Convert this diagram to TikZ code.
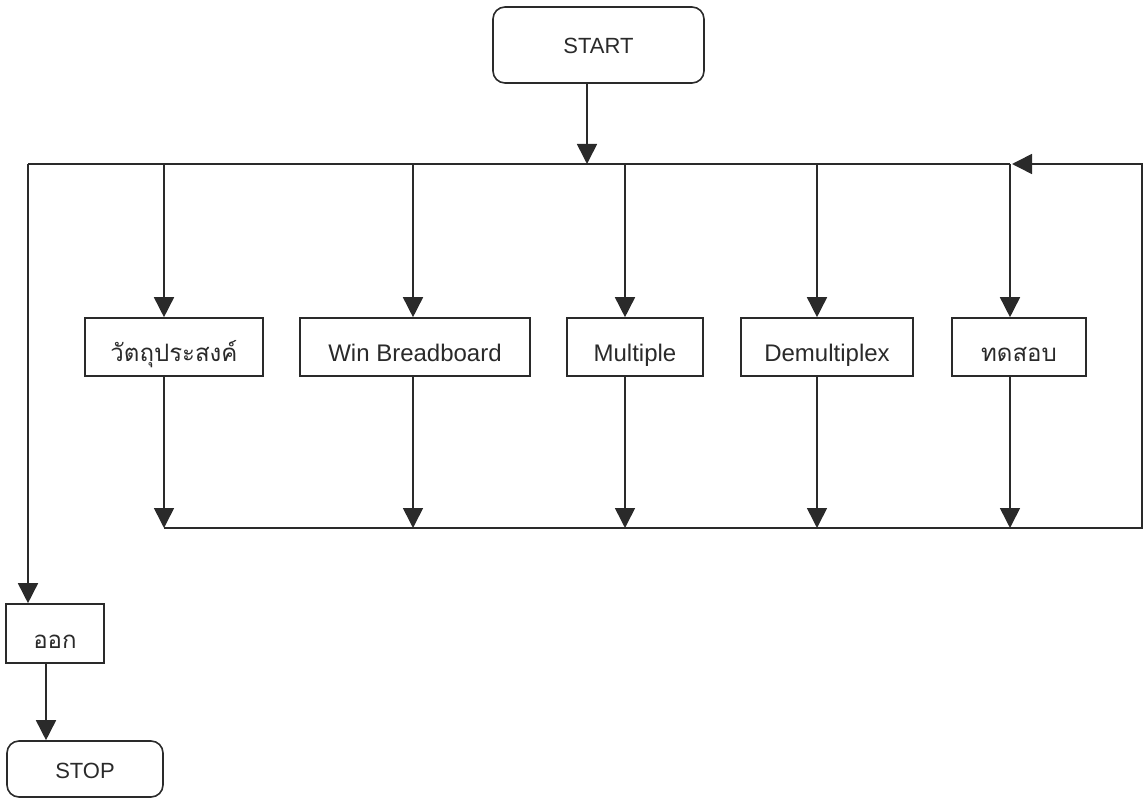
\documentclass[tikz,border=0pt]{standalone}
\usepackage{fontspec}
\setmainfont{Liberation Sans}
\newfontfamily\thaifont[Script=Thai]{Loma}
\usetikzlibrary{arrows.meta}
\definecolor{ink}{HTML}{2A2A2A}
\begin{document}
\begin{tikzpicture}[x=1pt,y=-1pt,
  flow/.style={draw=ink, line width=1.6pt},
  arr/.style={flow, -{Triangle[width=20pt,length=20pt]}},
  term/.style={draw=ink, line width=1.6pt, rounded corners=12pt, inner sep=0pt,
    text height=18pt, text depth=0pt,
    font=\fontsize{22}{26}\selectfont, text=ink},
  proc/.style={draw=ink, line width=1.6pt, minimum height=58pt, inner sep=0pt,
    text height=30pt, text depth=0pt,
    font=\fontsize{24}{28}\selectfont, text=ink}]
  \useasboundingbox (0,0) rectangle (1143,799);

  % terminals
  \node[term, minimum width=211pt, minimum height=76pt] (start) at (598.5,45) {START};
  \node[term, minimum width=156pt, minimum height=56pt] (stop) at (85,769) {STOP};

  % menu items
  \node[proc, minimum width=178pt] (obj)  at (174,347)  {\thaifont วัตถุประสงค์};
  \node[proc, minimum width=230pt] (wb)   at (415,347)  {Win Breadboard};
  \node[proc, minimum width=136pt] (mul)  at (635,347)  {Multiple};
  \node[proc, minimum width=172pt] (dem)  at (827,347)  {Demultiplex};
  \node[proc, minimum width=134pt] (test) at (1019,347) {\thaifont ทดสอบ};
  \node[proc, minimum width=98pt, minimum height=59pt] (exit) at (55,633.5) {\thaifont ออก};

  % bus lines
  \coordinate (split) at (587,164);
  \coordinate (tl) at (28,164);
  \coordinate (tr) at (1142,164);
  \coordinate (bl) at (164,528);
  \coordinate (br) at (1142,528);
  \coordinate (c1) at (164,164);
  \coordinate (c2) at (413,164);
  \coordinate (c3) at (625,164);
  \coordinate (c4) at (817,164);
  \coordinate (c5) at (1010,164);
  \coordinate (c5in) at (1012,164);

  \draw[arr] (start.south -| split) -- (split);
  \draw[flow] (tl) -- (c5);
  \draw[arr] (bl) -- (br) -- (tr) -- (c5in);

  % branches into the menu items
  \draw[arr] (c1) -- (obj.north -| c1);
  \draw[arr] (c2) -- (wb.north -| c2);
  \draw[arr] (c3) -- (mul.north -| c3);
  \draw[arr] (c4) -- (dem.north -| c4);
  \draw[arr] (c5) -- (test.north -| c5);

  % returns to the lower bus
  \draw[arr] (obj.south -| c1) -- (bl);
  \draw[arr] (wb.south -| c2) -- (c2 |- bl);
  \draw[arr] (mul.south -| c3) -- (c3 |- bl);
  \draw[arr] (dem.south -| c4) -- (c4 |- bl);
  \draw[arr] (test.south -| c5) -- (c5 |- bl);

  % exit path
  \draw[arr] (tl) -- (exit.north -| tl);
  \draw[arr] ([xshift=-9pt]exit.south) -- ([xshift=-39pt]stop.north);
\end{tikzpicture}
\end{document}
